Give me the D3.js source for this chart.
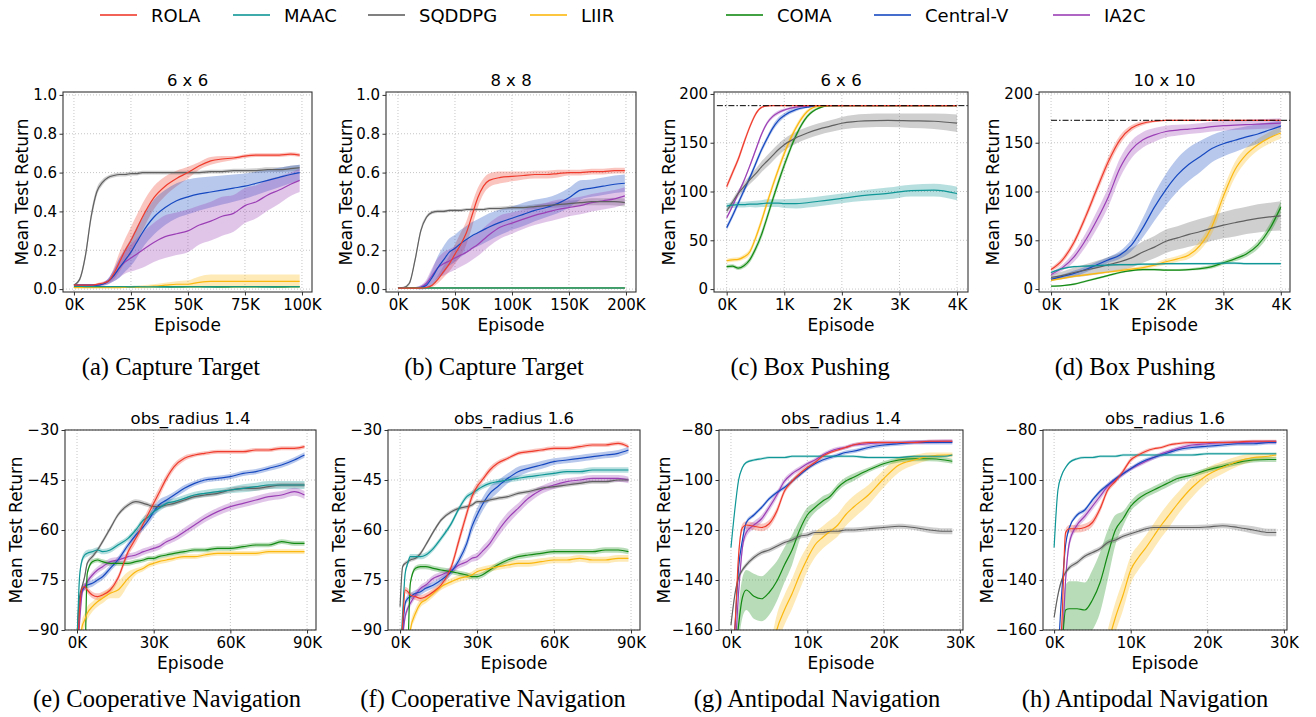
<!DOCTYPE html>
<html>
<head>
  <meta charset="utf-8">
  <title>Learning curves</title>
  <style type="text/css">
    body { margin: 0; background: #fff; }
    svg { display: block; background: #fff; }
    .tick text { font-family: 'DejaVu Sans', sans-serif; font-size: 15px; fill: #000; }
    .tick line { stroke: #333; }
  </style>
</head>
<body>

<svg id='vis' width='1316' height='717'></svg>

<script src="https://cdnjs.cloudflare.com/ajax/libs/d3/7.8.5/d3.min.js"></script>
<script type="text/javascript">

  /* methods, in legend order */
  var methods = ['ROLA', 'MAAC', 'SQDDPG', 'LIIR', 'COMA', 'Central-V', 'IA2C'];

  /* (a) Capture Target 6 x 6, episodes in K */
  var capA_x = [0,2.5,5,7.5,10,12.5,15,17.5,20,22.5,25,27.5,30,35,40,45,50,55,60,65,70,75,80,85,90,95,99];
  var capA_mean = [
    [0.02,0.02,0.02,0.02,0.025,0.03,0.04,0.08,0.14,0.2,0.25,0.31,0.37,0.47,0.53,0.57,0.6,0.635,0.66,0.67,0.675,0.685,0.69,0.69,0.69,0.695,0.69],
    [0.015,0.014,0.013,0.013,0.012,0.012,0.013,0.012,0.012,0.012,0.011,0.012,0.012,0.012,0.011,0.012,0.012,0.012,0.011,0.012,0.012,0.012,0.012,0.011,0.012,0.012,0.012],
    [0.02,0.05,0.17,0.37,0.5,0.55,0.575,0.585,0.59,0.59,0.595,0.595,0.6,0.6,0.6,0.6,0.6,0.6,0.605,0.605,0.61,0.61,0.61,0.615,0.615,0.62,0.625],
    [0.008,0.008,0.008,0.008,0.008,0.008,0.008,0.008,0.008,0.009,0.01,0.01,0.012,0.015,0.02,0.025,0.025,0.035,0.04,0.04,0.04,0.04,0.04,0.04,0.04,0.04,0.04],
    [0.012,0.012,0.012,0.012,0.013,0.012,0.012,0.012,0.011,0.012,0.012,0.013,0.012,0.012,0.012,0.011,0.012,0.012,0.012,0.011,0.012,0.012,0.012,0.012,0.011,0.012,0.012],
    [0.02,0.02,0.02,0.02,0.02,0.025,0.04,0.07,0.11,0.15,0.19,0.24,0.29,0.37,0.42,0.455,0.475,0.49,0.5,0.51,0.52,0.53,0.545,0.56,0.575,0.59,0.6],
    [0.02,0.02,0.02,0.02,0.02,0.025,0.04,0.07,0.11,0.14,0.16,0.18,0.2,0.24,0.27,0.285,0.3,0.33,0.35,0.375,0.39,0.43,0.45,0.485,0.51,0.54,0.56]
  ];
  var capA_sd = [
    [0.005,0.005,0.005,0.005,0.005,0.008,0.01,0.03,0.05,0.06,0.07,0.07,0.07,0.06,0.05,0.04,0.03,0.02,0.02,0.015,0.01,0.01,0.01,0.01,0.01,0.01,0.01],
    0.003,
    [0.005,0.01,0.02,0.025,0.02,0.015,0.01,0.01,0.01,0.01,0.01,0.01,0.01,0.01,0.01,0.01,0.01,0.01,0.01,0.01,0.01,0.01,0.012,0.012,0.012,0.015,0.015],
    [0.003,0.003,0.003,0.003,0.003,0.003,0.003,0.003,0.003,0.004,0.005,0.006,0.008,0.01,0.012,0.015,0.02,0.03,0.035,0.035,0.035,0.035,0.035,0.035,0.035,0.035,0.035],
    0.004,
    [0.005,0.005,0.005,0.005,0.005,0.008,0.015,0.03,0.05,0.06,0.07,0.08,0.08,0.09,0.09,0.09,0.09,0.085,0.08,0.075,0.07,0.065,0.06,0.055,0.05,0.045,0.04],
    [0.005,0.005,0.005,0.005,0.005,0.008,0.015,0.03,0.05,0.06,0.07,0.08,0.09,0.1,0.11,0.11,0.11,0.1,0.1,0.1,0.095,0.09,0.085,0.08,0.07,0.06,0.06]
  ];

  /* (b) Capture Target 8 x 8 */
  var capB_x = [0,5,10,15,20,25,30,35,40,45,50,55,60,65,70,75,80,90,100,110,120,130,140,150,160,170,180,190,199];
  var capB_mean = [
    [0.005,0.005,0.005,0.005,0.005,0.008,0.02,0.05,0.09,0.13,0.18,0.23,0.29,0.38,0.47,0.53,0.56,0.575,0.58,0.585,0.59,0.59,0.595,0.6,0.6,0.605,0.605,0.61,0.61],
    [0.005,0.005,0.005,0.005,0.005,0.005,0.005,0.005,0.005,0.005,0.005,0.005,0.005,0.005,0.005,0.005,0.005,0.005,0.005,0.005,0.005,0.005,0.005,0.005,0.005,0.005,0.005,0.005,0.005],
    [0.005,0.008,0.03,0.15,0.3,0.37,0.395,0.4,0.4,0.405,0.405,0.405,0.41,0.41,0.41,0.41,0.415,0.415,0.42,0.42,0.425,0.43,0.435,0.44,0.445,0.45,0.45,0.45,0.445],
    [0.004,0.004,0.004,0.004,0.004,0.004,0.004,0.004,0.004,0.004,0.004,0.004,0.004,0.004,0.004,0.004,0.004,0.004,0.004,0.004,0.004,0.004,0.004,0.004,0.004,0.004,0.004,0.004,0.004],
    [0.006,0.006,0.006,0.006,0.006,0.006,0.006,0.006,0.006,0.006,0.006,0.006,0.006,0.006,0.006,0.006,0.006,0.006,0.006,0.006,0.006,0.006,0.006,0.006,0.006,0.006,0.006,0.006,0.006],
    [0.005,0.005,0.005,0.005,0.008,0.02,0.06,0.11,0.15,0.19,0.21,0.235,0.255,0.275,0.29,0.305,0.32,0.345,0.365,0.385,0.405,0.42,0.44,0.47,0.51,0.52,0.53,0.54,0.545],
    [0.005,0.005,0.005,0.005,0.01,0.03,0.07,0.11,0.13,0.145,0.16,0.175,0.19,0.21,0.23,0.255,0.28,0.32,0.34,0.36,0.38,0.395,0.41,0.42,0.43,0.445,0.455,0.465,0.48]
  ];
  var capB_sd = [
    [0.003,0.003,0.003,0.003,0.003,0.005,0.01,0.02,0.03,0.04,0.05,0.06,0.06,0.06,0.05,0.04,0.035,0.03,0.025,0.02,0.02,0.02,0.02,0.015,0.015,0.015,0.015,0.015,0.015],
    0.002,
    [0.003,0.005,0.01,0.015,0.015,0.01,0.008,0.008,0.008,0.008,0.008,0.008,0.008,0.008,0.008,0.008,0.008,0.01,0.01,0.01,0.012,0.012,0.015,0.015,0.015,0.018,0.018,0.02,0.02],
    0.002,
    0.002,
    [0.003,0.003,0.003,0.005,0.01,0.02,0.04,0.06,0.07,0.07,0.07,0.07,0.07,0.07,0.07,0.07,0.07,0.065,0.06,0.06,0.055,0.05,0.05,0.05,0.05,0.045,0.045,0.045,0.045],
    [0.003,0.003,0.003,0.005,0.01,0.02,0.04,0.05,0.06,0.06,0.06,0.06,0.06,0.06,0.06,0.06,0.06,0.06,0.055,0.05,0.05,0.05,0.05,0.045,0.045,0.045,0.045,0.045,0.045]
  ];

  /* (c) Box Pushing 6 x 6 */
  var boxC_x = [0,0.1,0.2,0.3,0.4,0.5,0.6,0.7,0.8,0.9,1.0,1.2,1.4,1.6,1.8,2.0,2.4,2.8,3.2,3.6,4.0];
  var boxC_mean = [
    [105,119,133,150,166,179,186,187.7,188,188,188,188,188,188,188,188,188,188,188,188,188],
    [85,86,86.5,86.5,87,87,87.5,88,88,88,87.5,87.5,88.5,90,91.5,93,96,98,101,101.5,98],
    [80,89,98,105,112,118,125,131,137,143,148,155,160,164,167,170,172.5,173,172.5,172,170],
    [29,30,30.5,33,38,52,69,88,106,123,139,165,182,187.5,188,188,188,188,188,188,188],
    [23,23.5,21.5,24,30,41,55,73,92,110,127,157,177,185.5,188,188,188,188,188,188,188],
    [63,75,88,101,114,128,142,154,165,173,178,184,186.5,188,188,188,188,188,188,188,188],
    [73,85,98,111,126,142,158,170,177,181,183.5,186.5,187.5,188,188,188,188,188,188,188,188]
  ];
  var boxC_sd = [
    [3,3,3,3,2.5,2,1,0.5,0.3,0.3,0.3,0.3,0.3,0.3,0.3,0.3,0.3,0.3,0.3,0.3,0.3],
    [3,3,3,3,3,3.5,3.5,4,4,4,4.5,5,5,5,5,5,5.5,6,6,6.5,7],
    [3,3,3.5,4,4.5,5,5.5,6,6,6,6,6,6,6,6,6.5,7,7,7.5,8,9],
    [2,2,2,2.5,3,3.5,4,4,4,4,4,3,2,1,0.5,0.3,0.3,0.3,0.3,0.3,0.3],
    [2,2,2,2.5,3,3.5,4,4,4,4,4,3,2,1,0.5,0.3,0.3,0.3,0.3,0.3,0.3],
    [3,3,3,3,3,3,3,3,3,3,2.5,2,1,0.5,0.3,0.3,0.3,0.3,0.3,0.3,0.3],
    [2,2,2,2,2,2,2,2,2,2,1.5,1,0.5,0.3,0.3,0.3,0.3,0.3,0.3,0.3,0.3]
  ];

  /* (d) Box Pushing 10 x 10 */
  var boxD_x = [0,0.2,0.4,0.6,0.8,1.0,1.2,1.4,1.6,1.8,2.0,2.2,2.4,2.6,2.8,3.0,3.2,3.4,3.6,3.8,4.0];
  var boxD_mean = [
    [20,30,48,74,103,131,153,165,170,172,173,173,173,173,173,173,173,173,173,173,173],
    [17,21,23,23.5,24,24.5,25,25,25.5,25.5,26,26,26,26,26,26.5,26.5,26,26,26,26],
    [12,14,17,19.5,22,25,28,32,38,43,49,52.5,56,59,62.5,65.5,68,70.5,72.5,74,75],
    [9,11,13,14.5,16,17.5,19,20.5,22,24.5,28,31,35,45,64,95,122,138,148,155,160],
    [3,3.5,5,8,11,14,17,19,20,20,19.5,19.5,20,21,23,27,31,36,45,61,84],
    [10,13,16,20,25,30,35,45,63,84,102,117,128,136,144,149,152.5,156,159,163,167],
    [15,22,33,50,71,95,124,143,153,158,161.5,163,164,165,166.5,167.5,168,168.5,169,169.5,170]
  ];
  var boxD_sd = [
    [2,3,3.5,4,4.5,5,4.5,3,2,1,0.5,0.5,0.5,0.5,0.5,0.5,0.5,0.5,0.5,0.5,0.5],
    1,
    [3,4,5,6,7,8,9,10,11,11.5,12,12,12.5,13,13,13.5,14,14,14.5,14.5,15],
    [1,1,1,1,1,1,1.5,1.5,2,2,3,3,4,5,7,8,8,7,6,6,6],
    [0.5,0.5,1,1,1,1,1,1,1,1,1,1,1,1.5,2,2,2.5,3,4,5,6],
    [2,2,3,3,3,3,4,6,10,14,16,17,17,16,14,13,12,11,10,8,6],
    [2,3,5,7,9,10,10,9,8,7,6,5.5,5,5,5,5,5,5,5,5,5]
  ];

  /* (e) Cooperative Navigation obs_radius 1.4 */
  var navE_x = [0,1,2,3,4,6,8,10,13,16,20,23,26,28,30,32,35,38,42,46,50,55,60,65,70,75,80,85,89];
  var navE_mean = [
    [-100,-84,-77.5,-77,-78,-79.5,-80,-79.5,-78,-74.5,-66.5,-62.5,-58,-55,-52,-49,-44.5,-41,-38.5,-37.5,-37,-36.5,-36.5,-36.5,-36,-36,-35.5,-35.5,-35],
    [-95,-74,-69,-67.5,-67,-66.5,-66,-66.5,-66,-64.5,-62.5,-60,-57,-56,-54.5,-53.5,-52,-51.5,-50.5,-49.5,-49,-48.5,-48,-47.5,-47,-46.5,-46.5,-46.5,-46.5],
    [-92,-80,-77,-74,-70,-68,-66,-63.5,-59.5,-55.5,-52.5,-51.5,-52,-52.5,-53,-53,-52.5,-52,-51,-50,-49.5,-49,-48,-47.5,-47.5,-47,-46.5,-46.5,-46.5],
    [-110,-95,-89,-87,-85,-83,-81.5,-80.5,-79,-78,-74.5,-72.5,-71.5,-70.5,-70,-69.5,-69,-68.5,-68,-68,-67.5,-67,-67,-67,-67,-66.5,-66.5,-66.5,-66.5],
    [null,null,null,-110,-73,-69.5,-69,-69.5,-70,-70,-70,-69.5,-69,-68.5,-68.5,-68,-67.5,-67,-66.5,-66,-66,-65.5,-65.5,-65,-64.5,-64.5,-63.5,-64,-64],
    [-100,-83,-78,-77,-76.5,-76,-75,-74,-71.5,-69,-64.5,-61.5,-59,-57,-54.5,-52.5,-51,-49.5,-47.5,-46,-45,-44.5,-44,-43,-42.5,-41.5,-40.5,-39,-37.5],
    [-100,-88,-79,-77,-75.5,-73.5,-72,-71,-69.5,-69,-68,-67.5,-66.5,-66,-65.5,-65,-63.5,-62.5,-60.5,-58.5,-56.5,-54.5,-53,-52,-51,-50,-49.5,-48.5,-49.5]
  ];
  var navE_sd = [
    [1,1,1,1,1,1,1,1,1,1,1.2,1.5,1.5,1.5,1.5,1.5,1.2,1,0.8,0.6,0.6,0.6,0.6,0.6,0.6,0.6,0.6,0.6,0.6],
    [1,1,1,1,1,0.8,0.8,0.8,0.8,0.8,0.8,0.8,1,1,1,1,1,1,1,1,1,1,1,1.2,1.2,1.2,1.2,1.2,1.2],
    0.7,
    [2,2,2,2,2,1.5,1.5,1.5,1.5,2.5,2,1,0.8,0.8,0.8,0.8,0.8,0.7,0.7,0.7,0.7,0.7,0.7,0.7,0.7,0.7,0.7,0.7,0.7],
    0.7,
    [1,1,1,1,1,1,1,1,1,1,1,1,1,1.2,1.5,1.5,1.2,1,1,0.8,0.8,0.8,0.8,0.8,0.8,0.8,0.8,0.8,0.8],
    [1,1,1,1,1,1,1,1,1,1,1,1,1,1,1,1,1,1,1.2,1.2,1.2,1.2,1.2,1.2,1.2,1.2,1.2,1.2,1.2]
  ];

  /* (f) Cooperative Navigation obs_radius 1.6 */
  var navF_x = [0,1,2,3,4,6,8,10,13,16,20,23,26,28,30,32,35,38,42,46,50,55,60,65,70,75,80,85,89];
  var navF_mean = [
    [-100,-88,-78,-78.5,-79.5,-80,-80.5,-80,-78.5,-76.5,-71,-63,-55,-50,-47,-45,-42,-40,-38.5,-37,-36.5,-36,-35.5,-35.5,-35,-34.5,-34.5,-34,-35],
    [-100,-85,-73,-70,-68,-68,-68,-67.5,-65.5,-62.5,-58,-53.5,-50,-49,-48,-47,-46,-45.5,-45,-44.5,-44,-43.5,-43,-42.5,-42.5,-42,-42,-42,-42],
    [-83,-71,-70,-69.5,-69,-68.5,-67,-64.5,-60.5,-57,-54.5,-53.5,-53,-52.5,-51.5,-51.5,-51,-50.5,-50,-49,-48.5,-47.5,-47,-46.5,-46,-45.5,-45.5,-45,-45],
    [null,null,-110,-98,-90,-85,-82,-81,-79,-77,-75.5,-74.5,-74,-73.5,-72.5,-72,-71.5,-71,-70.5,-70,-70,-69.5,-69,-69,-68.5,-69,-69,-68.5,-68.5],
    [null,null,null,-100,-76,-71.5,-71,-71,-71.5,-72,-72.5,-73,-73.5,-74,-74,-73.5,-72,-70.5,-69,-68,-67.5,-67,-66.5,-66.5,-66.5,-66.5,-66,-66,-66.5],
    [-100,-90,-82,-80.5,-80,-79,-78.5,-77.5,-76.5,-75,-72.5,-69,-64,-59,-55.5,-52.5,-49,-47,-44.5,-42.5,-41.5,-40.5,-39.5,-39,-38.5,-38,-37.5,-37,-36],
    [-100,-92,-86,-83.5,-82,-79.5,-77.5,-76.5,-74.5,-73.5,-72,-70.5,-69.5,-68.5,-68,-66.5,-64,-60.5,-56.5,-53.5,-50.5,-48,-46.5,-45.5,-45,-44.5,-44.5,-44.5,-45]
  ];
  var navF_sd = [
    [1,1,1,1,1,1,1,1,1,1,1.2,1.5,1.5,1.5,1.2,1,1,0.8,0.6,0.6,0.6,0.6,0.6,0.6,0.6,0.6,0.6,0.6,0.6],
    0.8,
    0.6,
    [1.5,1.5,1.5,1.5,1.5,1.5,1.2,1,1,1,1,1,1,1,1,1,1,1,1,1,1,1,1,1,1,1,1,1,1],
    0.8,
    [1,1,1,1,1,1,1,1,1,1,1,1.2,1.5,1.8,2,2,2,1.8,1.5,1.5,1.2,1.2,1,1,1,1,1,1,1],
    [1,1,1,1,1,1,1,1,1,1,1,1,1,1,1.2,1.5,1.5,1.8,1.8,1.5,1.5,1.2,1.2,1,1,1,1,1,1]
  ];

  /* (g) Antipodal Navigation obs_radius 1.4 */
  var antG_x = [0,0.5,1,1.5,2,3,4,5,6,7,8,9,10,11,12,13,14,15,16,18,20,22,24,26,28,29];
  var antG_mean = [
    [-180,-160,-130,-119,-118,-118.5,-119,-117.5,-112.5,-104.5,-100.5,-97.5,-95,-93,-90.5,-89,-88,-87,-86,-85,-85,-85,-85,-84.5,-84.5,-84.5],
    [-127,-112,-100,-95,-93,-92,-91.5,-91,-91,-91,-90.5,-90.5,-90.5,-90.5,-90.5,-90.5,-90.5,-90.5,-90.5,-91,-91,-91,-90.5,-90.5,-90.5,-90],
    [-158,-146,-139,-136,-134,-131,-129,-128,-126.5,-125,-124,-122.5,-122,-121,-121,-120.5,-120.5,-120,-120,-119.5,-119,-118.5,-119,-120,-120.5,-120.5],
    [null,null,null,null,null,null,null,-175,-160,-152,-145.5,-138,-131.5,-126,-123,-120.5,-118,-114,-111,-106,-99.5,-94,-92,-90.5,-90,-90],
    [null,-175,-158,-147,-144,-146.5,-147.5,-145,-140.5,-134,-128,-120,-114,-111,-108.5,-106.5,-103,-100.5,-99,-96,-93.5,-92,-91.5,-91.5,-92,-92.5],
    [-180,-160,-135,-124,-117,-114,-111,-107.5,-105,-103,-100.5,-98,-95.5,-93.5,-92,-91,-90,-89,-88.5,-87,-86,-85.5,-85,-85,-85,-85],
    [-180,-170,-145,-127,-121,-118,-115.5,-111,-106,-100.5,-97.5,-95.5,-93.5,-92,-90,-88.5,-87.5,-87,-86,-85.5,-85,-85,-84.8,-84.7,-84.5,-84.5]
  ];
  var antG_sd = [
    [2,2,2,1.5,1.5,1.5,1.5,1.5,1.5,1.2,1,1,1,0.8,0.8,0.6,0.6,0.6,0.6,0.6,0.6,0.6,0.6,0.6,0.6,0.6],
    0.5,
    [1,1,1,1,1,1,1,1,1,1,1,1,1,1,1,1,1,1,1,1,1,1,1,1.2,1.2,1.2],
    [0,0,0,0,0,0,0,6,6,6,6,6,5,5,4.5,4.5,4.5,4.5,4.5,4,3.5,3,2,1.5,1,1],
    [0,5,7,8,8,9,9,9,8,7,6,4,3,2,2,1.5,1.5,1.5,1.5,1,1,1,1,1,1,1],
    0.8,
    [2,2,2,2,2,1.5,1.5,1.5,1.5,1.2,1,1,0.8,0.8,0.8,0.8,0.8,0.8,0.8,0.8,0.8,0.8,0.8,0.8,0.8,0.8]
  ];

  /* (h) Antipodal Navigation obs_radius 1.6 */
  var antH_x = [0,0.5,1,1.5,2,3,4,5,6,7,8,9,10,11,12,13,14,15,16,18,20,22,24,26,28,29];
  var antH_mean = [
    [-180,-175,-158,-121,-119.5,-119.5,-119,-117,-111.5,-104,-100.5,-96.5,-92,-90,-88.5,-87.5,-87,-86,-85.5,-85,-85,-85,-84.8,-84.5,-84.5,-84.5],
    [-127,-104,-98,-95,-93,-91.5,-91,-91,-90.5,-90.5,-90.5,-90,-90,-90,-90,-90,-90,-90,-90,-90,-89.5,-89.5,-89.5,-89.5,-89.5,-89.5],
    [-155,-146,-140,-137,-135,-133,-130.5,-129,-127.5,-125,-124,-122.5,-121.5,-120.5,-119.5,-119,-119,-119,-119,-119,-118.8,-118.3,-119,-120,-121,-121],
    [null,null,null,null,null,null,null,null,-180,-166,-155,-146,-136,-131,-127,-122.5,-118,-114,-110,-103,-98,-95,-92.5,-91,-90.5,-90],
    [null,null,-170,-152,-151.5,-151.5,-152,-148,-141,-130,-120,-115.5,-110.5,-107.5,-105.5,-104,-102.5,-101,-99.5,-98,-96,-94.5,-93,-92,-91.8,-91.8],
    [-180,-170,-145,-126,-119,-114,-112,-108,-104.5,-102,-99.5,-97.5,-95.5,-93.5,-92,-91,-90,-89,-88,-87,-86.5,-86,-85.5,-85.5,-85,-85],
    [-180,-180,-170,-140,-125,-118,-114.5,-110.5,-106.5,-102.5,-100,-97.5,-95.5,-94,-92.5,-91,-89.5,-88.5,-87.5,-86,-85.5,-85,-85,-84.8,-84.8,-84.8]
  ];
  var antH_sd = [
    [2,2,2,1.5,1.5,1.5,1.5,1.5,1.5,1.2,1,1,1,0.8,0.8,0.6,0.6,0.6,0.6,0.6,0.6,0.6,0.6,0.6,0.6,0.6],
    0.5,
    [1,1,1,1,1,1,1,1,1,1,1,1,1,1,1,1,1,1,1,1,1,1,1.2,1.5,1.5,1.5],
    [0,0,0,0,0,0,0,0,6,6,6,6,5.5,5,5,5,5,5,4.5,4,3,2.5,2,1.5,1,1],
    [0,0,10,10,11,11,11,12,12,10,6,3,2,2,1.5,1.5,1.5,1.5,1.5,1,1,1,1,1,1,1],
    0.8,
    [2,2,2,2,2,1.5,1.5,1.5,1.5,1.2,1,1,0.8,0.8,0.8,0.8,0.8,0.8,0.8,0.8,0.8,0.8,0.8,0.8,0.8,0.8]
  ];

  /* styling + layout */
  var colors = ['#ef3b2c', '#0f9696', '#606060', '#fbb80f', '#138a13', '#1548c0', '#9b3fb5'];
  var legendX = [100, 233, 368, 530, 726, 874, 1053];

  var panels = [
    { x: capA_x, mean: capA_mean, sd: capA_sd, title: '6 x 6', caption: '(a) Capture Target',
      box: [63, 92, 249, 200], xDom: [-4.8, 104.4], yDom: [-0.015, 1.015],
      xTicks: [0, 25, 50, 75, 100], yTicks: [0, 0.2, 0.4, 0.6, 0.8, 1.0], yFmt: d3.format('.1f'), ylabX: 21.5, capX: 171 },
    { x: capB_x, mean: capB_mean, sd: capB_sd, title: '8 x 8', caption: '(b) Capture Target',
      box: [386, 92, 250, 200], xDom: [-10.5, 208.8], yDom: [-0.015, 1.015],
      xTicks: [0, 50, 100, 150, 200], yTicks: [0, 0.2, 0.4, 0.6, 0.8, 1.0], yFmt: d3.format('.1f'), ylabX: 346, capX: 494 },
    { x: boxC_x, mean: boxC_mean, sd: boxC_sd, title: '6 x 6', caption: '(c) Box Pushing',
      box: [714, 92, 254, 200], xDom: [-0.22, 4.19], yDom: [-3, 202],
      xTicks: [0, 1, 2, 3, 4], yTicks: [0, 50, 100, 150, 200], yFmt: d3.format('d'), ylabX: 669, capX: 810,
      ref: { y: 188, x0: -0.17 } },
    { x: boxD_x, mean: boxD_mean, sd: boxD_sd, title: '10 x 10', caption: '(d) Box Pushing',
      box: [1039, 92, 251, 200], xDom: [-0.21, 4.16], yDom: [-3, 202],
      xTicks: [0, 1, 2, 3, 4], yTicks: [0, 50, 100, 150, 200], yFmt: d3.format('d'), ylabX: 993, capX: 1135,
      ref: { y: 173, x0: 0 } },
    { x: navE_x, mean: navE_mean, sd: navE_sd, title: 'obs_radius 1.4', caption: '(e) Cooperative Navigation',
      box: [65, 430, 251, 200], xDom: [-4.7, 93.5], yDom: [-90, -30],
      xTicks: [0, 30, 60, 90], yTicks: [-90, -75, -60, -45, -30], yFmt: d3.format('d'), ylabX: 15.5, capX: 167 },
    { x: navF_x, mean: navF_mean, sd: navF_sd, title: 'obs_radius 1.6', caption: '(f) Cooperative Navigation',
      box: [388, 430, 252, 200], xDom: [-4.7, 93.5], yDom: [-90, -30],
      xTicks: [0, 30, 60, 90], yTicks: [-90, -75, -60, -45, -30], yFmt: d3.format('d'), ylabX: 339, capX: 493 },
    { x: antG_x, mean: antG_mean, sd: antG_sd, title: 'obs_radius 1.4', caption: '(g) Antipodal Navigation',
      box: [719, 430, 244, 200], xDom: [-1.57, 30.4], yDom: [-160, -80],
      xTicks: [0, 10, 20, 30], yTicks: [-160, -140, -120, -100, -80], yFmt: d3.format('d'), ylabX: 664, capX: 817 },
    { x: antH_x, mean: antH_mean, sd: antH_sd, title: 'obs_radius 1.6', caption: '(h) Antipodal Navigation',
      box: [1043, 430, 244, 200], xDom: [-1.45, 30.4], yDom: [-160, -80],
      xTicks: [0, 10, 20, 30], yTicks: [-160, -140, -120, -100, -80], yFmt: d3.format('d'), ylabX: 987, capX: 1145 }
  ];

  var svg = d3.select('#vis');
  var sans = "'DejaVu Sans', sans-serif";

  function sdAt(sd, i) { return Array.isArray(sd) ? sd[i] : sd; }

  // legend
  var leg = svg.append('g').selectAll('g')
    .data(methods)
    .enter().append('g')
      .attr('transform', function(d, i) { return 'translate(' + legendX[i] + ',15)' });
  leg.append('line')
    .attr('x1', 0).attr('x2', 37)
    .attr('stroke', function(d, i) { return colors[i] })
    .attr('stroke-width', 2)
    .attr('stroke-opacity', 0.8);
  leg.append('text')
    .attr('x', 51).attr('y', 7)
    .style('font-family', sans).style('font-size', '18px')
    .text(function(d) { return d });

  panels.forEach(function(p, pi) {
    var bx = p.box[0], by = p.box[1], w = p.box[2], h = p.box[3];
    var x = d3.scaleLinear().domain(p.xDom).range([0, w]);
    var y = d3.scaleLinear().domain(p.yDom).range([h, 0]);

    var g = svg.append('g').attr('transform', 'translate(' + bx + ',' + by + ')');

    // grid
    g.append('g').selectAll('line').data(p.xTicks).enter().append('line')
      .attr('x1', function(d) { return x(d) }).attr('x2', function(d) { return x(d) })
      .attr('y1', 0).attr('y2', h)
      .attr('stroke', '#b8b8b8').attr('stroke-width', 0.8).attr('stroke-dasharray', '1,2');
    g.append('g').selectAll('line').data(p.yTicks).enter().append('line')
      .attr('y1', function(d) { return y(d) }).attr('y2', function(d) { return y(d) })
      .attr('x1', 0).attr('x2', w)
      .attr('stroke', '#b8b8b8').attr('stroke-width', 0.8).attr('stroke-dasharray', '1,2');

    var clipId = 'clip' + pi;
    g.append('clipPath').attr('id', clipId)
      .append('rect').attr('width', w).attr('height', h);
    var plot = g.append('g').attr('clip-path', 'url(#' + clipId + ')');

    var idx = d3.range(p.x.length);

    // bands
    methods.forEach(function(m, k) {
      var mean = p.mean[k], sd = p.sd[k];
      var area = d3.area()
        .defined(function(i) { return mean[i] != null })
        .x(function(i) { return x(p.x[i]) })
        .y0(function(i) { return y(mean[i] - sdAt(sd, i)) })
        .y1(function(i) { return y(mean[i] + sdAt(sd, i)) })
        .curve(d3.curveMonotoneX);
      plot.append('path')
        .attr('d', area(idx))
        .attr('fill', colors[k])
        .attr('fill-opacity', 0.3);
    });

    // lines, ROLA drawn last so it sits on top
    methods.slice().reverse().forEach(function(m) {
      var k = methods.indexOf(m), mean = p.mean[k];
      var line = d3.line()
        .defined(function(i) { return mean[i] != null })
        .x(function(i) { return x(p.x[i]) })
        .y(function(i) { return y(mean[i]) })
        .curve(d3.curveMonotoneX);
      plot.append('path')
        .attr('d', line(idx))
        .attr('fill', 'none')
        .attr('stroke', colors[k])
        .attr('stroke-width', 1.2);
    });

    if (p.ref) {
      g.append('line')
        .attr('x1', x(p.ref.x0)).attr('x2', w)
        .attr('y1', y(p.ref.y)).attr('y2', y(p.ref.y))
        .attr('stroke', '#000').attr('stroke-width', 1)
        .attr('stroke-dasharray', '6,2,1.5,2');
    }

    // frame
    g.append('rect')
      .attr('width', w).attr('height', h)
      .attr('fill', 'none').attr('stroke', '#333').attr('stroke-width', 1.1);

    // axes
    var xa = g.append('g').attr('transform', 'translate(0,' + h + ')')
      .call(d3.axisBottom(x).tickValues(p.xTicks).tickSize(3.5).tickPadding(4)
        .tickFormat(function(d) { return d + 'K' }));
    xa.select('.domain').remove();
    var ya = g.append('g')
      .call(d3.axisLeft(y).tickValues(p.yTicks).tickSize(3.5).tickPadding(2.5).tickFormat(p.yFmt));
    ya.select('.domain').remove();
    g.selectAll('.tick text').attr('font-family', null).attr('font-size', null);

    // title + labels
    g.append('text')
      .attr('x', w / 2).attr('y', -6)
      .attr('text-anchor', 'middle')
      .style('font-family', sans).style('font-size', '16.5px')
      .text(p.title);
    g.append('text')
      .attr('x', w / 2).attr('y', h + 39)
      .attr('text-anchor', 'middle')
      .style('font-family', sans).style('font-size', '17px')
      .text('Episode');
    svg.append('text')
      .attr('transform', 'translate(' + (p.ylabX + 6) + ',' + (by + h / 2) + ') rotate(-90)')
      .attr('text-anchor', 'middle')
      .style('font-family', sans).style('font-size', '17px')
      .text('Mean Test Return');

    // sub-caption
    svg.append('text')
      .attr('x', p.capX).attr('y', by < 200 ? 375 : 707)
      .attr('text-anchor', 'middle')
      .style('font-family', "'Liberation Serif', 'Times New Roman', serif")
      .style('font-size', '24.5px')
      .text(p.caption);
  });

</script>
</body>
</html>
